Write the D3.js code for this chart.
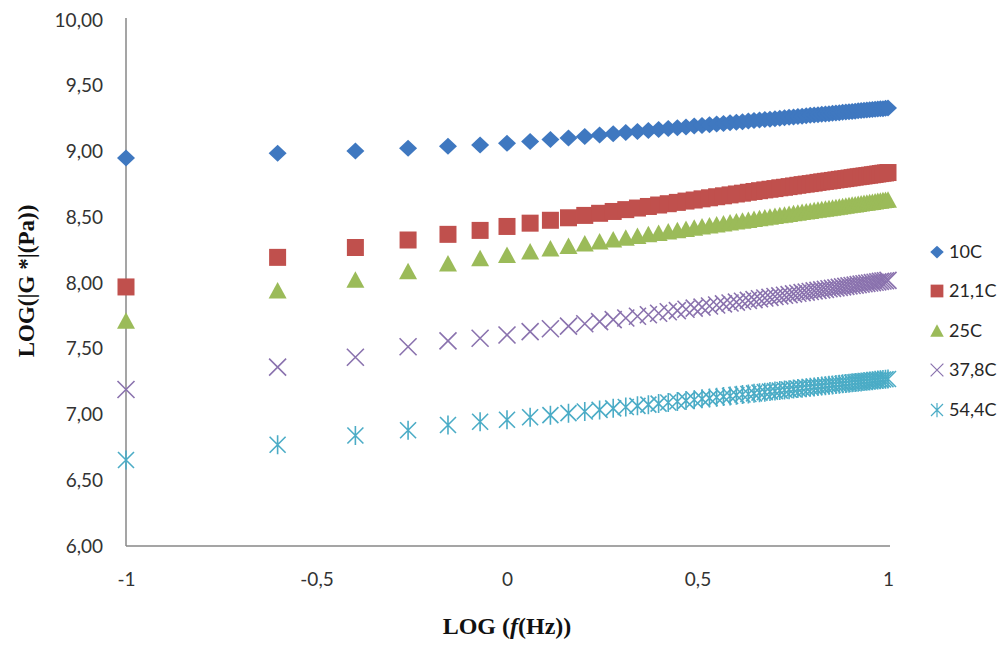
<!DOCTYPE html>
<html>
<head>
<meta charset="utf-8">
<script src="https://cdn.jsdelivr.net/npm/d3@7"></script>
<style>
  html, body { margin: 0; padding: 0; background: #fff; }
  svg { display: block; }
</style>
</head>
<body>
<svg id="chart" width="1007" height="646"></svg>
<script>
// Frequencies (Hz); x is LOG(f)
const freqHz = [0.1, 0.25, 0.4, 0.55, 0.7, 0.85, 1.0, 1.15, 1.3, 1.45, 1.6, 1.75, 1.9, 2.05, 2.2, 2.35,
  2.5, 2.65, 2.8, 2.95, 3.1, 3.25, 3.4, 3.55, 3.7, 3.85, 4.0, 4.15, 4.3, 4.45, 4.6, 4.75, 4.9, 5.05,
  5.2, 5.35, 5.5, 5.65, 5.8, 5.95, 6.1, 6.25, 6.4, 6.55, 6.7, 6.85, 7.0, 7.15, 7.3, 7.45, 7.6, 7.75,
  7.9, 8.05, 8.2, 8.35, 8.5, 8.65, 8.8, 8.95, 9.1, 9.25, 9.4, 9.55, 9.7, 9.85, 10.0];

const seriesNames = ["10C", "21,1C", "25C", "37,8C", "54,4C"];

const logG_10C = [8.950, 8.986, 9.004, 9.024, 9.040, 9.050, 9.062, 9.076, 9.091, 9.103, 9.115, 9.126,
  9.135, 9.144, 9.152, 9.160, 9.167, 9.174, 9.181, 9.187, 9.193, 9.198, 9.203, 9.209, 9.213, 9.218,
  9.223, 9.227, 9.231, 9.235, 9.239, 9.243, 9.246, 9.250, 9.253, 9.257, 9.260, 9.263, 9.266, 9.269,
  9.272, 9.275, 9.278, 9.280, 9.283, 9.286, 9.288, 9.291, 9.293, 9.295, 9.298, 9.300, 9.302, 9.305,
  9.307, 9.309, 9.311, 9.313, 9.315, 9.317, 9.319, 9.321, 9.323, 9.325, 9.326, 9.328, 9.330];

const logG_211C = [7.970, 8.195, 8.270, 8.327, 8.370, 8.400, 8.430, 8.455, 8.477, 8.496, 8.514, 8.530,
  8.544, 8.558, 8.570, 8.582, 8.593, 8.603, 8.613, 8.623, 8.631, 8.640, 8.648, 8.656, 8.663, 8.670,
  8.677, 8.683, 8.690, 8.696, 8.702, 8.708, 8.713, 8.718, 8.724, 8.728, 8.733, 8.738, 8.743, 8.748,
  8.752, 8.756, 8.760, 8.765, 8.769, 8.773, 8.776, 8.780, 8.784, 8.788, 8.791, 8.794, 8.798, 8.801,
  8.805, 8.808, 8.811, 8.814, 8.817, 8.820, 8.823, 8.826, 8.829, 8.832, 8.835, 8.837, 8.840];

const logG_25C = [7.710, 7.940, 8.020, 8.085, 8.145, 8.185, 8.210, 8.236, 8.258, 8.278, 8.296, 8.312,
  8.327, 8.341, 8.354, 8.366, 8.377, 8.388, 8.398, 8.407, 8.416, 8.425, 8.433, 8.441, 8.449, 8.456,
  8.463, 8.470, 8.476, 8.482, 8.488, 8.494, 8.500, 8.505, 8.511, 8.516, 8.521, 8.526, 8.530, 8.536,
  8.540, 8.544, 8.549, 8.553, 8.557, 8.561, 8.565, 8.569, 8.572, 8.576, 8.580, 8.583, 8.587, 8.591,
  8.594, 8.597, 8.600, 8.604, 8.606, 8.610, 8.613, 8.616, 8.619, 8.622, 8.625, 8.627, 8.630];

const logG_378C = [7.190, 7.360, 7.435, 7.515, 7.560, 7.580, 7.605, 7.630, 7.652, 7.672, 7.690, 7.706,
  7.721, 7.734, 7.747, 7.759, 7.770, 7.781, 7.790, 7.800, 7.809, 7.817, 7.825, 7.833, 7.841, 7.848,
  7.855, 7.861, 7.868, 7.874, 7.880, 7.886, 7.891, 7.897, 7.902, 7.907, 7.912, 7.917, 7.922, 7.927,
  7.931, 7.935, 7.940, 7.944, 7.948, 7.952, 7.956, 7.959, 7.963, 7.967, 7.971, 7.974, 7.978, 7.981,
  7.984, 7.988, 7.991, 7.994, 7.997, 8.000, 8.003, 8.006, 8.009, 8.012, 8.015, 8.017, 8.020];

const logG_544C = [6.654, 6.770, 6.840, 6.880, 6.920, 6.945, 6.960, 6.979, 6.995, 7.010, 7.023, 7.035,
  7.047, 7.057, 7.066, 7.075, 7.083, 7.091, 7.099, 7.106, 7.112, 7.119, 7.125, 7.131, 7.136, 7.141,
  7.147, 7.152, 7.156, 7.161, 7.166, 7.170, 7.174, 7.178, 7.182, 7.186, 7.189, 7.193, 7.197, 7.200,
  7.203, 7.207, 7.210, 7.213, 7.216, 7.219, 7.222, 7.225, 7.228, 7.230, 7.233, 7.236, 7.238, 7.241,
  7.243, 7.246, 7.248, 7.251, 7.253, 7.255, 7.257, 7.260, 7.262, 7.264, 7.266, 7.268, 7.270];

const yTicks = [6, 6.5, 7, 7.5, 8, 8.5, 9, 9.5, 10];
const xTicks = [-1, -0.5, 0, 0.5, 1];
const xTitle = "LOG (";
const yTitle = "LOG(|G *|(Pa))";

// ---------- drawing ----------
const svg = d3.select("#chart");
const plotLeft = 126, plotRight = 888, plotTop = 20, plotBottom = 546;

const x = d3.scaleLinear().domain([-1, 1]).range([plotLeft, plotRight]);
const y = d3.scaleLinear().domain([6, 10]).range([plotBottom, plotTop]);

const commaFmt = (f) => (v) => d3.format(f)(v).replace(".", ",");
const axisColor = "#878787";
const labelFont = "Lato, 'Open Sans', sans-serif";

// Y axis
const yAxis = svg.append("g")
  .attr("transform", `translate(${plotLeft},0)`)
  .call(d3.axisLeft(y).tickValues(yTicks).tickFormat(commaFmt(".2f")).tickSize(0).tickPadding(23));
yAxis.select(".domain").attr("stroke", axisColor).attr("stroke-width", 1.5).attr("d", `M0,${plotTop - 2}V${plotBottom}`);
yAxis.selectAll("text").attr("font-family", labelFont).attr("font-size", 19).attr("fill", "#333");

// X axis
const xAxis = svg.append("g")
  .attr("transform", `translate(0,${plotBottom})`)
  .call(d3.axisBottom(x).tickValues(xTicks).tickFormat(v => String(v).replace(".", ",")).tickSize(0).tickPadding(27));
xAxis.select(".domain").attr("stroke", axisColor).attr("stroke-width", 1.5).attr("d", `M${plotLeft},0H${plotRight + 2}`);
xAxis.selectAll("text").attr("font-family", labelFont).attr("font-size", 19).attr("fill", "#333");

// Axis titles
const xt = svg.append("text")
  .attr("x", x(0)).attr("y", 634)
  .attr("text-anchor", "middle")
  .attr("font-family", "'Liberation Serif', 'Times New Roman', serif")
  .attr("font-weight", "bold").attr("font-size", 24).attr("fill", "#111");
xt.append("tspan").text(xTitle);
xt.append("tspan").attr("font-style", "italic").text("f");
xt.append("tspan").text("(Hz))");

svg.append("text")
  .attr("transform", `translate(34,281) rotate(-90)`)
  .attr("text-anchor", "middle")
  .attr("font-family", "'Liberation Serif', 'Times New Roman', serif")
  .attr("font-weight", "bold").attr("font-size", 23).attr("fill", "#111")
  .text(yTitle);

// Marker shapes
const markers = [
  { color: "#3F78C0", draw: (g) => g.append("path").attr("d", "M0,-8.5L9,0L0,8.5L-9,0Z").attr("fill", "#3F78C0") },
  { color: "#C0504D", draw: (g) => g.append("rect").attr("x", -8.5).attr("y", -8.5).attr("width", 17).attr("height", 17).attr("fill", "#C0504D") },
  { color: "#9BBB59", draw: (g) => g.append("path").attr("d", "M0,-9L9,7.5L-9,7.5Z").attr("fill", "#9BBB59") },
  { color: "#8A72AE", draw: (g) => g.append("path").attr("d", "M-8.5,-8.5L8.5,8.5M8.5,-8.5L-8.5,8.5").attr("stroke", "#8A72AE").attr("stroke-width", 1.6).attr("fill", "none") },
  { color: "#4BACC6", draw: (g) => g.append("path").attr("d", "M-8,-8L8,8M8,-8L-8,8M0,-9.5V9.5").attr("stroke", "#4BACC6").attr("stroke-width", 1.6).attr("fill", "none") }
];

const seriesValues = [logG_10C, logG_211C, logG_25C, logG_378C, logG_544C];

seriesValues.forEach((vals, si) => {
  const g = svg.append("g").attr("class", "series");
  vals.forEach((v, i) => {
    const m = g.append("g").attr("transform", `translate(${x(Math.log10(freqHz[i]))},${y(v)})`);
    markers[si].draw(m);
  });
});

// Legend
const legendY = [252, 291, 331, 370, 410];
seriesNames.forEach((name, i) => {
  const m = svg.append("g").attr("transform", `translate(937,${legendY[i]}) scale(0.75)`);
  markers[i].draw(m);
  svg.append("text")
    .attr("x", 949).attr("y", legendY[i]).attr("dy", "0.35em")
    .attr("font-family", labelFont).attr("font-size", 18).attr("fill", "#262626")
    .text(name);
});
</script>
</body>
</html>
